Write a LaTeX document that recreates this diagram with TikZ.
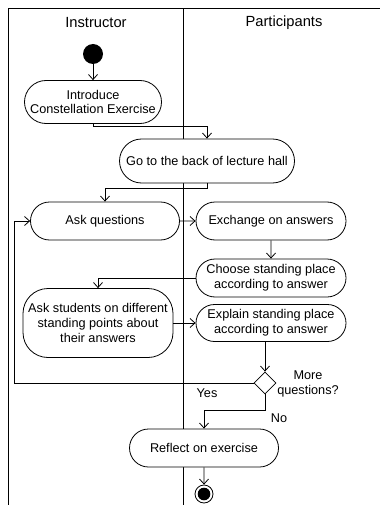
\documentclass[tikz,border=0pt]{standalone}
\usepackage{fontspec}
\setmainfont{Liberation Sans}
\usetikzlibrary{arrows.meta,shapes.misc,shapes.geometric}
\tikzset{
  lane/.style    = {line width=1pt, black},
  act/.style     = {rounded rectangle, draw, fill=white, line width=0.8pt,
                    inner sep=1pt, align=center,
                    font=\fontsize{12.7}{14.6}\selectfont},
  tallact/.style = {rectangle, rounded corners=25pt, draw, fill=white, line width=0.8pt,
                    inner sep=1pt, align=center,
                    font=\fontsize{12.7}{14.6}\selectfont},
  startdot/.style= {circle, fill=black, minimum size=20pt, inner sep=0pt},
  enddot/.style  = {circle, draw, line width=0.8pt, fill=white, minimum size=18pt, inner sep=0pt,
                    path picture={\fill[black] (path picture bounding box.center) circle (6.3pt);}},
  choice/.style  = {diamond, draw, fill=white, line width=0.8pt, minimum size=22pt, inner sep=0pt},
  flow/.style    = {-{Straight Barb[length=5pt,width=9pt]}, line width=0.8pt},
  lbl/.style     = {font=\fontsize{12.7}{14.6}\selectfont, align=center},
  head/.style    = {font=\fontsize{14.7}{16}\selectfont},
}
\begin{document}
\begin{tikzpicture}[x=1pt,y=-1pt]
  \useasboundingbox (0,0) rectangle (380,505);
  % swimlanes
  \draw[lane] (8,505) -- (8,9) -- (380,9);
  \draw[lane] (183,9) -- (183,505);
  \node[head] (hinst) at (96,23) {Instructor};
  \node[head] (hpart) at (284,23) {Participants};

  % activities
  \node[startdot] (start) at (93,54) {};
  \node[act, minimum width=139pt, minimum height=43pt] (intro) at (93,102)
      {Introduce\\Constellation Exercise};
  \node[act, minimum width=177pt, minimum height=44pt] (go) at (207,161)
      {Go to the back of lecture hall};
  \node[act, minimum width=151pt, minimum height=38pt] (ask) at (105,221)
      {Ask questions};
  \node[act, minimum width=152pt, minimum height=38pt] (exch) at (271,221)
      {Exchange on answers};
  \node[act, minimum width=152pt, minimum height=38pt] (choose) at (271,278)
      {Choose standing place\\according to answer};
  \node[tallact, minimum width=150pt, minimum height=69pt] (students) at (98,323)
      {Ask students on different\\standing points about\\their answers};
  \node[act, minimum width=152pt, minimum height=37pt] (explain) at (271,323)
      {Explain standing place\\according to answer};
  \node[choice] (dec) at (265,383) {};
  \node[act, minimum width=151pt, minimum height=38pt] (reflect) at (204,448)
      {Reflect on exercise};
  \node[enddot] (final) at (204,494) {};
  \coordinate (loop) at (14,383);

  % flows
  \draw[flow] (start) -- (intro);
  \draw[flow] (intro.south) -- ++(0,3) -| (go.north);
  \draw[flow] (go.south) -- ++(0,5) -| (ask.north);
  \draw[flow] (ask) -- (exch);
  \draw[flow] (exch) -- (choose);
  \draw[flow] (choose.west) -| (students.north);
  \draw[flow] (students) -- (explain);
  \draw[flow] (dec.north |- explain.south) -- (dec.north);
  \draw[flow] (dec.west) -- (loop) |- (ask.west);
  \draw[flow] (dec.south) -- ++(0,16) -| (reflect.north);
  \draw[flow] (reflect) -- (final);

  % guard labels
  \node[lbl] (yes) at (207,393) {Yes};
  \node[lbl] (no) at (279,418) {No};
  \node[lbl] (more) at (308,384) {More\\questions?};
\end{tikzpicture}
\end{document}
